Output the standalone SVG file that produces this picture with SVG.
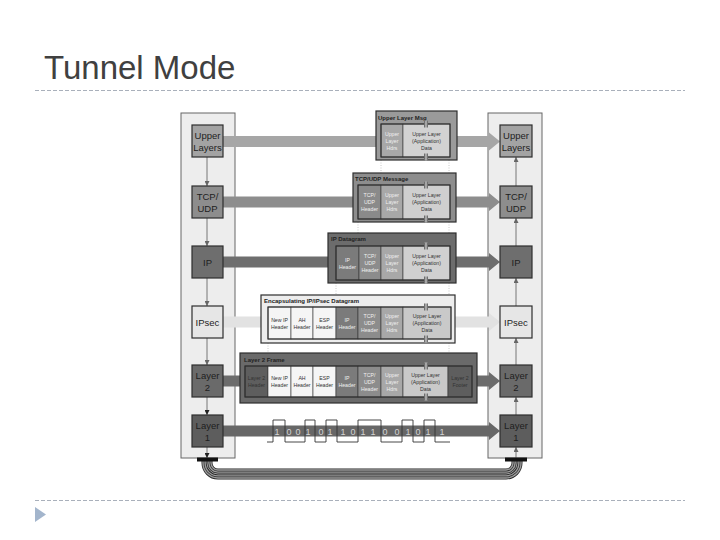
<svg xmlns="http://www.w3.org/2000/svg" width="720" height="540" viewBox="0 0 720 540">
<defs>
<style>
.title{font-family:"Liberation Sans",Arial,sans-serif;font-size:33px;fill:#404040}
.rule{stroke:#a9b0bb;stroke-width:1;stroke-dasharray:4 2;fill:none}
.panel{fill:#ededed;stroke:#666;stroke-width:1}
.node{stroke:#2e2e2e;stroke-width:1.2}
.nl{font-family:"Liberation Sans",Arial,sans-serif;font-size:9.5px;fill:#1e1e1e;text-anchor:middle}
.box{stroke:#2e2e2e;stroke-width:1.2}
.inner{fill:none;stroke:#2e2e2e;stroke-width:1.1}
.cell{stroke:#333;stroke-width:0.6}
.bt{font-family:"Liberation Sans",Arial,sans-serif;font-size:6px;font-weight:bold;fill:#222}
.ct{font-family:"Liberation Sans",Arial,sans-serif;font-size:5.2px;fill:#333;text-anchor:middle}
.lt{fill:#f0f0f0}
.vc{stroke:#777;stroke-width:1;fill:none}
.guide{stroke:#bdbdbd;stroke-width:0.8;stroke-dasharray:1 1.5;fill:none}
.bit{font-family:"Liberation Sans",Arial,sans-serif;font-size:9px;fill:#d4d4d4;text-anchor:middle}
</style>
<marker id="ah" markerUnits="userSpaceOnUse" markerWidth="5" markerHeight="5" refX="5" refY="2.5" orient="auto">
<path d="M0,0 L5,2.5 L0,5 z" fill="#666"/>
</marker>
<marker id="ahd" markerUnits="userSpaceOnUse" markerWidth="5" markerHeight="5" refX="5" refY="2.5" orient="auto">
<path d="M0,0 L5,2.5 L0,5 z" fill="#222"/>
</marker>
<g id="brk">
<rect x="-2" y="-3.5" width="4" height="7" fill="#d0d0d0"/>
<path d="M-1.2,-3.5 V3.5 M1.2,-3.5 V3.5" stroke="#222" stroke-width="0.8"/>
</g>
</defs>
<rect width="720" height="540" fill="#fff"/>

<g id="slide">
<text class="title" x="44" y="79">Tunnel Mode</text>
<path class="rule" d="M35,90.5 H685"/>
<path class="rule" d="M35,500.5 H685"/>
<path d="M35,507 L46,514.5 L35,522 z" fill="#a3b5cc"/>
</g>

<g id="panels">
<rect id="leftPanel" class="panel" x="181" y="113" width="54" height="345"/>
<rect id="rightPanel" class="panel" x="488" y="113" width="54" height="345"/>
</g>

<g id="connectors">
<!-- horizontal band arrows -->
<rect x="223" y="136" width="153" height="11" fill="#a6a6a6"/>
<path d="M457,136 H489 V132.5 L500,141.5 L489,150.5 V147 H457 z" fill="#a6a6a6"/>
<rect x="223" y="196.5" width="130" height="11" fill="#8d8d8d"/>
<path d="M456,196.5 H489 V193 L500,202 L489,211 V207.5 H456 z" fill="#8d8d8d"/>
<rect x="223" y="256.5" width="105" height="11" fill="#6e6e6e"/>
<path d="M456,256.5 H489 V253 L500,262 L489,271 V267.5 H456 z" fill="#6e6e6e"/>
<rect x="223" y="316.5" width="38" height="11" fill="#e2e2e2"/>
<path d="M455,316.5 H489 V313 L500,322 L489,331 V327.5 H455 z" fill="#e2e2e2"/>
<rect x="223" y="375.5" width="17" height="11" fill="#6c6c6c"/>
<path d="M477,375.5 H489 V372 L500,381 L489,390 V386.5 H477 z" fill="#6c6c6c"/>
<path d="M223,425.5 H489 V422 L500,431 L489,440 V436.5 H223 z" fill="#676767"/>
<!-- vertical stack arrows, left (down) -->
<path class="vc" d="M207,157 V186" marker-end="url(#ah)"/>
<path class="vc" d="M207,218 V246" marker-end="url(#ah)"/>
<path class="vc" d="M207,278 V306" marker-end="url(#ah)"/>
<path class="vc" d="M207,338 V365" marker-end="url(#ah)"/>
<path class="vc" d="M207,397 V415" stroke="#222" marker-end="url(#ahd)"/>
<path class="vc" d="M207,447 V458" stroke="#222" marker-end="url(#ahd)"/>
<!-- right (up) -->
<path class="vc" d="M516,458 V447" marker-end="url(#ah)"/>
<path class="vc" d="M516,415 V397" marker-end="url(#ah)"/>
<path class="vc" d="M516,365 V338" marker-end="url(#ah)"/>
<path class="vc" d="M516,306 V278" marker-end="url(#ah)"/>
<path class="vc" d="M516,246 V218" marker-end="url(#ah)"/>
<path class="vc" d="M516,186 V157" marker-end="url(#ah)"/>
<!-- guide lines -->
<path class="guide" d="M381,160 V173 M449,160 V173 M358,222 V233 M449,222 V233 M336,283 V295 M449,283 V295 M268,343 V353 M449,343 V353"/>
<!-- physical cable -->
<g id="cable" fill="none">
<path d="M207,461 V463 A11,11 0 0 0 218,474 H506 A11,11 0 0 0 517,463 V461" stroke="#262626" stroke-width="11"/>
<path d="M207,461 V463 A11,11 0 0 0 218,474 H506 A11,11 0 0 0 517,463 V461" stroke="#9c9c9c" stroke-width="9.4"/>
<path d="M207,461 V463 A11,11 0 0 0 218,474 H506 A11,11 0 0 0 517,463 V461" stroke="#262626" stroke-width="6.6"/>
<path d="M207,461 V463 A11,11 0 0 0 218,474 H506 A11,11 0 0 0 517,463 V461" stroke="#9c9c9c" stroke-width="5.2"/>
<path d="M207,461 V463 A11,11 0 0 0 218,474 H506 A11,11 0 0 0 517,463 V461" stroke="#262626" stroke-width="2.4"/>
<path d="M207,461 V463 A11,11 0 0 0 218,474 H506 A11,11 0 0 0 517,463 V461" stroke="#9c9c9c" stroke-width="1"/>
<rect x="197" y="457.5" width="21" height="4" fill="#111"/>
<rect x="505" y="457.5" width="22" height="4" fill="#111"/>
</g>
<!-- bit waveform -->
<g id="bits">
<path d="M267,442 H273 V420 H285 V442 H305 V420 H315 V442 H326 V420 H337 V442 H358 V420 H381 V442 H402 V420 H413 V442 H424 V420 H435 V442 H450" fill="none" stroke="#333" stroke-width="0.9"/>
<text class="bit" x="277" y="434.5">1</text>
<text class="bit" x="289" y="434.5">0</text>
<text class="bit" x="298" y="434.5">0</text>
<text class="bit" x="308" y="434.5">1</text>
<text class="bit" x="321" y="434.5">0</text>
<text class="bit" x="330" y="434.5">1</text>
<text class="bit" x="343" y="434.5">1</text>
<text class="bit" x="353" y="434.5">0</text>
<text class="bit" x="363" y="434.5">1</text>
<text class="bit" x="373" y="434.5">1</text>
<text class="bit" x="385" y="434.5">0</text>
<text class="bit" x="397" y="434.5">0</text>
<text class="bit" x="408" y="434.5">1</text>
<text class="bit" x="418" y="434.5">0</text>
<text class="bit" x="428" y="434.5">1</text>
<text class="bit" x="442" y="434.5">1</text>
</g>
</g>

<!-- left stack -->
<g id="L-upper"><rect class="node" x="192" y="125" width="31" height="32" fill="#a3a3a3"/><text class="nl" x="207.5" y="138.5">Upper</text><text class="nl" x="207.5" y="150.5">Layers</text></g>
<g id="L-tcp"><rect class="node" x="192" y="186" width="31" height="32" fill="#8d8d8d"/><text class="nl" x="207.5" y="199.5">TCP/</text><text class="nl" x="207.5" y="211.5">UDP</text></g>
<g id="L-ip"><rect class="node" x="192" y="246" width="31" height="32" fill="#6e6e6e"/><text class="nl" x="207.5" y="265.5">IP</text></g>
<g id="L-ipsec"><rect class="node" x="192" y="306" width="31" height="32" fill="#e6e6e6"/><text class="nl" x="207.5" y="325.5">IPsec</text></g>
<g id="L-l2"><rect class="node" x="192" y="365" width="31" height="32" fill="#6a6a6a"/><text class="nl" x="207.5" y="378.5">Layer</text><text class="nl" x="207.5" y="390.5">2</text></g>
<g id="L-l1"><rect class="node" x="192" y="415" width="31" height="32" fill="#5d5d5d"/><text class="nl" x="207.5" y="428.5">Layer</text><text class="nl" x="207.5" y="440.5">1</text></g>

<!-- right stack -->
<g id="R-upper"><rect class="node" x="500" y="125" width="32" height="32" fill="#a3a3a3"/><text class="nl" x="516" y="138.5">Upper</text><text class="nl" x="516" y="150.5">Layers</text></g>
<g id="R-tcp"><rect class="node" x="500" y="186" width="32" height="32" fill="#8d8d8d"/><text class="nl" x="516" y="199.5">TCP/</text><text class="nl" x="516" y="211.5">UDP</text></g>
<g id="R-ip"><rect class="node" x="500" y="246" width="32" height="32" fill="#6e6e6e"/><text class="nl" x="516" y="265.5">IP</text></g>
<g id="R-ipsec"><rect class="node" x="500" y="306" width="32" height="32" fill="#e6e6e6"/><text class="nl" x="516" y="325.5">IPsec</text></g>
<g id="R-l2"><rect class="node" x="500" y="365" width="32" height="32" fill="#6a6a6a"/><text class="nl" x="516" y="378.5">Layer</text><text class="nl" x="516" y="390.5">2</text></g>
<g id="R-l1"><rect class="node" x="500" y="415" width="32" height="32" fill="#5d5d5d"/><text class="nl" x="516" y="428.5">Layer</text><text class="nl" x="516" y="440.5">1</text></g>

<!-- Upper Layer Msg -->
<g id="msg">
<rect class="box" x="376" y="111" width="81" height="49" fill="#9a9a9a"/>
<text class="bt" x="378" y="119.5">Upper Layer Msg</text>
<rect class="cell" x="381" y="124" width="22" height="33" fill="#a8a8a8"/>
<rect class="cell" x="403" y="124" width="47" height="33" fill="#d2d2d2"/>
<rect class="inner" x="381" y="124" width="69" height="33"/>
<text class="ct lt" x="392" y="135.5">Upper</text><text class="ct lt" x="392" y="142.5">Layer</text><text class="ct lt" x="392" y="149.5">Hdrs</text>
<text class="ct" x="426.5" y="135.5">Upper Layer</text><text class="ct" x="426.5" y="142.5">(Application)</text><text class="ct" x="426.5" y="149.5">Data</text>
<use href="#brk" x="426" y="124"/><use href="#brk" x="426" y="157"/>
</g>

<!-- TCP/UDP Message -->
<g id="tcpmsg">
<rect class="box" x="353" y="173" width="103" height="49" fill="#8d8d8d"/>
<text class="bt" x="355" y="180.5">TCP/UDP Message</text>
<rect class="cell" x="358" y="185" width="23" height="34" fill="#8a8a8a"/>
<rect class="cell" x="381" y="185" width="22" height="34" fill="#a8a8a8"/>
<rect class="cell" x="403" y="185" width="47" height="34" fill="#cfcfcf"/>
<rect class="inner" x="358" y="185" width="92" height="34"/>
<text class="ct lt" x="369.5" y="197">TCP/</text><text class="ct lt" x="369.5" y="204">UDP</text><text class="ct lt" x="369.5" y="211">Header</text>
<text class="ct lt" x="392" y="197">Upper</text><text class="ct lt" x="392" y="204">Layer</text><text class="ct lt" x="392" y="211">Hdrs</text>
<text class="ct" x="426.5" y="197">Upper Layer</text><text class="ct" x="426.5" y="204">(Application)</text><text class="ct" x="426.5" y="211">Data</text>
<use href="#brk" x="426" y="185"/><use href="#brk" x="426" y="219"/>
</g>

<!-- IP Datagram -->
<g id="ipdgram">
<rect class="box" x="328" y="233" width="128" height="50" fill="#6c6c6c"/>
<text class="bt" x="331" y="241">IP Datagram</text>
<rect class="cell" x="336" y="246" width="23" height="34" fill="#7b7b7b"/>
<rect class="cell" x="359" y="246" width="22" height="34" fill="#8c8c8c"/>
<rect class="cell" x="381" y="246" width="22" height="34" fill="#a8a8a8"/>
<rect class="cell" x="403" y="246" width="47" height="34" fill="#d0d0d0"/>
<rect class="inner" x="336" y="246" width="114" height="34"/>
<text class="ct lt" x="347.5" y="261.5">IP</text><text class="ct lt" x="347.5" y="268.5">Header</text>
<text class="ct lt" x="370" y="258">TCP/</text><text class="ct lt" x="370" y="265">UDP</text><text class="ct lt" x="370" y="272">Header</text>
<text class="ct lt" x="392" y="258">Upper</text><text class="ct lt" x="392" y="265">Layer</text><text class="ct lt" x="392" y="272">Hdrs</text>
<text class="ct" x="426.5" y="258">Upper Layer</text><text class="ct" x="426.5" y="265">(Application)</text><text class="ct" x="426.5" y="272">Data</text>
<use href="#brk" x="426" y="246"/><use href="#brk" x="426" y="280"/>
</g>

<!-- Encapsulating IP/IPsec Datagram -->
<g id="encap">
<rect class="box" x="261" y="295" width="194" height="48" fill="#ededed"/>
<text class="bt" x="264" y="302.5">Encapsulating IP/IPsec Datagram</text>
<rect class="cell" x="268" y="307" width="23" height="32" fill="#f5f5f5"/>
<rect class="cell" x="291" y="307" width="22" height="32" fill="#f5f5f5"/>
<rect class="cell" x="313" y="307" width="23" height="32" fill="#f5f5f5"/>
<rect class="cell" x="336" y="307" width="22" height="32" fill="#7b7b7b"/>
<rect class="cell" x="358" y="307" width="23" height="32" fill="#8c8c8c"/>
<rect class="cell" x="381" y="307" width="22" height="32" fill="#a8a8a8"/>
<rect class="cell" x="403" y="307" width="48" height="32" fill="#c9c9c9"/>
<rect class="inner" x="268" y="307" width="183" height="32"/>
<text class="ct" x="279.5" y="321.5">New IP</text><text class="ct" x="279.5" y="328.5">Header</text>
<text class="ct" x="302" y="321.5">AH</text><text class="ct" x="302" y="328.5">Header</text>
<text class="ct" x="324.5" y="321.5">ESP</text><text class="ct" x="324.5" y="328.5">Header</text>
<text class="ct lt" x="347" y="321.5">IP</text><text class="ct lt" x="347" y="328.5">Header</text>
<text class="ct lt" x="369.5" y="318">TCP/</text><text class="ct lt" x="369.5" y="325">UDP</text><text class="ct lt" x="369.5" y="332">Header</text>
<text class="ct lt" x="392" y="318">Upper</text><text class="ct lt" x="392" y="325">Layer</text><text class="ct lt" x="392" y="332">Hdrs</text>
<text class="ct" x="427" y="318">Upper Layer</text><text class="ct" x="427" y="325">(Application)</text><text class="ct" x="427" y="332">Data</text>
<use href="#brk" x="426" y="307"/><use href="#brk" x="426" y="339"/>
</g>

<!-- Layer 2 Frame -->
<g id="l2frame">
<rect class="box" x="240" y="353" width="237" height="50" fill="#6a6a6a"/>
<text class="bt" x="244" y="361.5" fill="#e4e4e4">Layer 2 Frame</text>
<rect class="cell" x="245" y="366" width="23" height="31" fill="#5e5e5e"/>
<rect class="cell" x="268" y="366" width="23" height="31" fill="#f5f5f5"/>
<rect class="cell" x="291" y="366" width="22" height="31" fill="#f5f5f5"/>
<rect class="cell" x="313" y="366" width="23" height="31" fill="#f5f5f5"/>
<rect class="cell" x="336" y="366" width="22" height="31" fill="#7b7b7b"/>
<rect class="cell" x="358" y="366" width="23" height="31" fill="#8c8c8c"/>
<rect class="cell" x="381" y="366" width="22" height="31" fill="#a8a8a8"/>
<rect class="cell" x="403" y="366" width="45" height="31" fill="#c9c9c9"/>
<rect class="cell" x="448" y="366" width="24" height="31" fill="#5e5e5e"/>
<rect class="inner" x="245" y="366" width="227" height="31"/>
<text class="ct" x="256.5" y="380" fill="#cfcfcf">Layer 2</text><text class="ct" x="256.5" y="387" fill="#cfcfcf">Header</text>
<text class="ct" x="279.5" y="380">New IP</text><text class="ct" x="279.5" y="387">Header</text>
<text class="ct" x="302" y="380">AH</text><text class="ct" x="302" y="387">Header</text>
<text class="ct" x="324.5" y="380">ESP</text><text class="ct" x="324.5" y="387">Header</text>
<text class="ct lt" x="347" y="380">IP</text><text class="ct lt" x="347" y="387">Header</text>
<text class="ct lt" x="369.5" y="376.5">TCP/</text><text class="ct lt" x="369.5" y="383.5">UDP</text><text class="ct lt" x="369.5" y="390.5">Header</text>
<text class="ct lt" x="392" y="376.5">Upper</text><text class="ct lt" x="392" y="383.5">Layer</text><text class="ct lt" x="392" y="390.5">Hdrs</text>
<text class="ct" x="425.5" y="376.5">Upper Layer</text><text class="ct" x="425.5" y="383.5">(Application)</text><text class="ct" x="425.5" y="390.5">Data</text>
<text class="ct" x="460" y="380" fill="#cfcfcf">Layer 2</text><text class="ct" x="460" y="387" fill="#cfcfcf">Footer</text>
<use href="#brk" x="426" y="366"/><use href="#brk" x="426" y="397"/>
</g>
</svg>
